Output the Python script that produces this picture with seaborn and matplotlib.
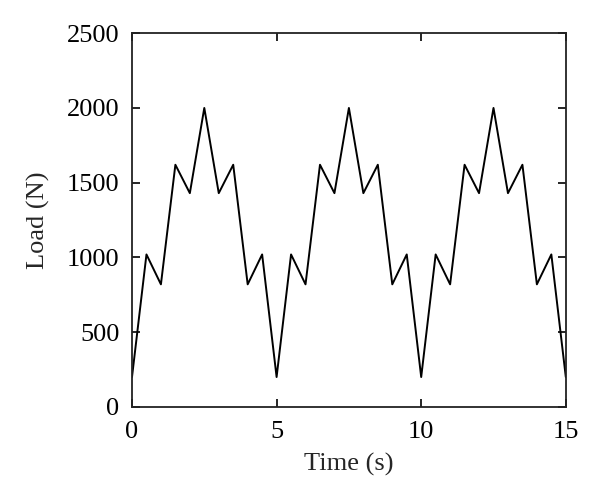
import numpy as np
import pandas as pd
import seaborn as sns
import matplotlib
matplotlib.use('Agg')
import matplotlib.pyplot as plt

# one 5 s load cycle, repeated three times
cycle_time = [0.0, 0.5, 1.0, 1.5, 2.0, 2.5, 3.0, 3.5, 4.0, 4.5]
cycle_load = [200, 1020, 820, 1620, 1430, 2000, 1430, 1620, 820, 1020]
n_cycles = 3
period = 5

time = [t + k * period for k in range(n_cycles) for t in cycle_time] + [n_cycles * period]
load = [v for k in range(n_cycles) for v in cycle_load] + [cycle_load[0]]

df = pd.DataFrame({'Time': time, 'Load': load})

sns.set_theme(style='ticks')
plt.rcParams['font.family'] = ['Liberation Serif', 'DejaVu Serif']

fig = plt.figure(figsize=(6, 5.03), dpi=100)
ax = fig.add_axes([0.22, 0.191, 0.723, 0.743])

sns.lineplot(data=df, x='Time', y='Load', color='black', linewidth=1.4, ax=ax)

ax.set_xlim(0, 15)
ax.set_ylim(0, 2500)
ax.set_xticks([0, 5, 10, 15])
ax.set_yticks(range(0, 2501, 500))
ax.tick_params(direction='in', top=True, right=True, length=6, width=1.2,
               labelsize=19, colors='black')
ax.tick_params(axis='x', pad=10)
ax.tick_params(axis='y', pad=9)
for s in ax.spines.values():
    s.set_linewidth(1.3)
    s.set_color('#222222')

ax.set_xlabel('Time (s)', fontsize=19, labelpad=7)
ax.set_ylabel('Load (N)', fontsize=19, labelpad=12)

fig.savefig('out.png', dpi=100)
